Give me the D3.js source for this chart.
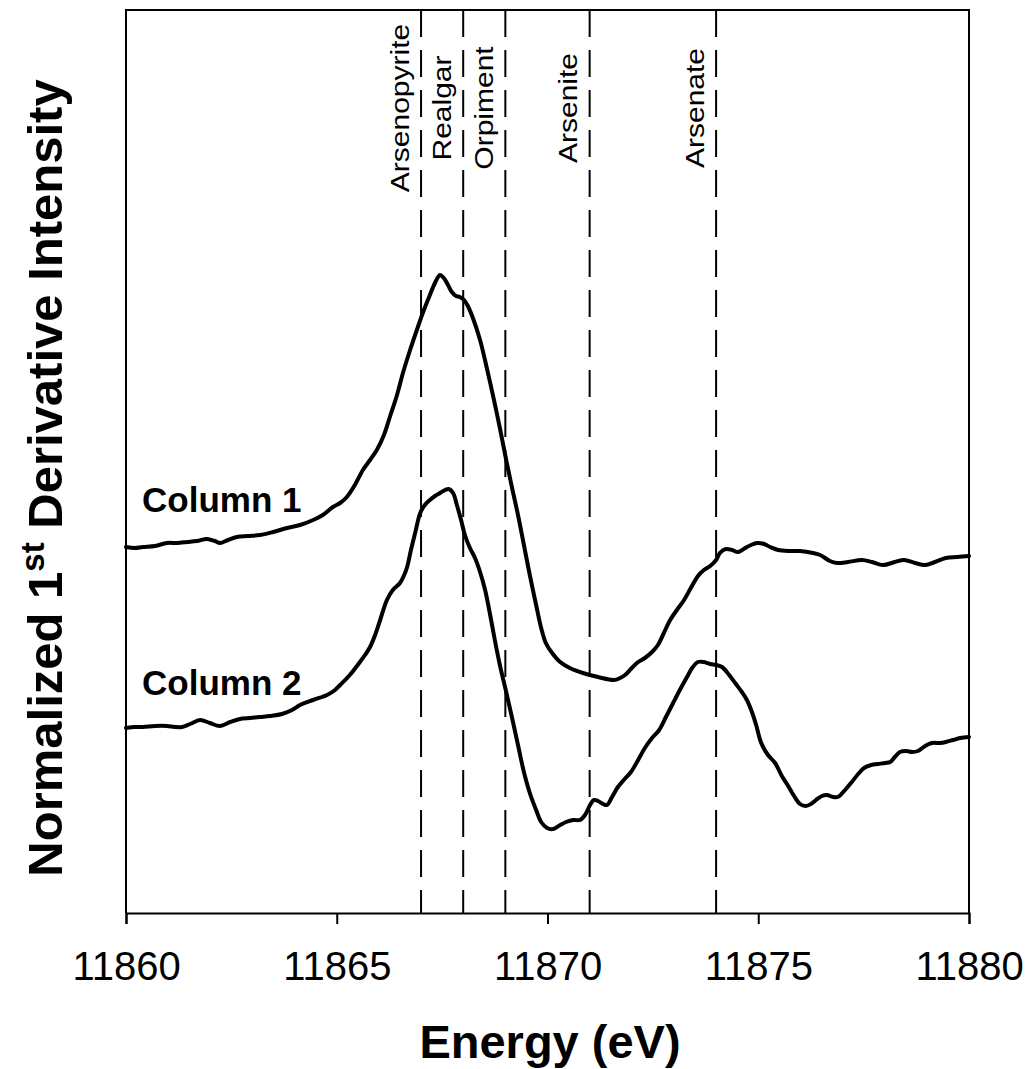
<!DOCTYPE html>
<html>
<head>
<meta charset="utf-8">
<script src="https://cdn.jsdelivr.net/npm/d3@7"></script>
<style>
  html, body { margin: 0; padding: 0; background: #fff; }
  svg { display: block; font-family: "Liberation Sans", Arial, sans-serif; }
</style>
</head>
<body>
<svg id="chart" width="1034" height="1069"></svg>
<script>
// ---- data ----
const xTicks = [11860, 11865, 11870, 11875, 11880];
const refEnergies = [11867, 11868, 11869, 11871, 11874];
const refLabels = ["Arsenopyrite", "Realgar", "Orpiment", "Arsenite", "Arsenate"];
const seriesNames = ["Column 1", "Column 2"];

const col1Energy = [11860.00,11860.21,11860.40,11860.69,11860.97,11861.21,11861.45,11861.68,11861.92,11862.11,11862.23,11862.42,11862.63,11862.89,11863.18,11863.49,11863.82,11864.13,11864.44,11864.67,11864.91,11865.08,11865.24,11865.43,11865.62,11865.79,11865.95,11866.12,11866.26,11866.43,11866.57,11866.74,11866.90,11867.05,11867.21,11867.33,11867.45,11867.54,11867.64,11867.73,11867.83,11867.92,11868.02,11868.11,11868.23,11868.40,11868.56,11868.73,11868.87,11869.02,11869.16,11869.30,11869.44,11869.58,11869.73,11869.85,11869.96,11870.11,11870.30,11870.53,11870.84,11871.20,11871.58,11871.72,11871.84,11872.00,11872.15,11872.31,11872.48,11872.62,11872.76,11872.91,11873.07,11873.24,11873.40,11873.57,11873.71,11873.86,11874.00,11874.09,11874.23,11874.38,11874.52,11874.69,11874.83,11874.97,11875.14,11875.28,11875.47,11875.75,11875.99,11876.30,11876.47,11876.70,11876.87,11877.13,11877.46,11877.70,11877.96,11878.24,11878.46,11878.72,11878.96,11879.19,11879.45,11879.72,11880.00];
const col1Value = [366,365,366,367,370,370,371,372,374,372,370,373,376,377,378,381,385,388,393,398,406,410,416,428,443,453,463,478,496,518,540,563,583,601,618,630,638,635,628,621,617,616,613,607,595,573,545,513,485,453,425,398,368,338,308,285,270,260,251,245,240,236,233,235,238,245,251,255,261,268,280,293,303,313,325,337,343,347,353,360,364,363,361,365,368,370,369,366,363,362,362,360,358,352,350,351,353,351,348,351,353,350,348,351,355,356,357];

const col2Energy = [11860.00,11860.21,11860.40,11860.69,11860.97,11861.16,11861.33,11861.52,11861.76,11861.99,11862.23,11862.47,11862.70,11862.94,11863.18,11863.42,11863.70,11863.94,11864.13,11864.44,11864.77,11864.96,11865.08,11865.31,11865.55,11865.67,11865.79,11865.91,11866.03,11866.19,11866.33,11866.50,11866.60,11866.67,11866.76,11866.86,11866.98,11867.09,11867.21,11867.33,11867.45,11867.57,11867.66,11867.76,11867.85,11867.95,11868.04,11868.16,11868.28,11868.40,11868.52,11868.64,11868.75,11868.87,11869.02,11869.16,11869.30,11869.44,11869.58,11869.73,11869.85,11869.99,11870.13,11870.30,11870.44,11870.61,11870.77,11870.89,11871.01,11871.10,11871.20,11871.32,11871.41,11871.53,11871.67,11871.81,11871.98,11872.15,11872.31,11872.48,11872.65,11872.81,11872.98,11873.14,11873.31,11873.43,11873.57,11873.71,11873.86,11874.00,11874.14,11874.31,11874.47,11874.61,11874.73,11874.85,11874.95,11875.07,11875.23,11875.40,11875.56,11875.71,11875.85,11875.99,11876.13,11876.25,11876.37,11876.51,11876.63,11876.77,11876.89,11877.06,11877.22,11877.37,11877.51,11877.68,11877.84,11878.01,11878.13,11878.24,11878.36,11878.51,11878.65,11878.79,11878.96,11879.12,11879.31,11879.45,11879.62,11879.79,11880.00];
const col2Value = [185,186,186,187,187,186,186,189,193,190,187,191,194,195,196,197,199,203,208,213,218,223,228,238,251,258,266,278,293,313,323,330,338,346,363,380,400,408,413,417,420,423,424,420,408,393,378,365,355,341,323,298,273,248,221,195,168,141,120,103,91,85,84,88,91,93,93,98,108,113,112,109,108,116,126,133,141,153,165,175,183,196,210,223,236,245,251,251,249,248,246,238,229,221,213,201,188,170,158,150,137,127,117,109,107,109,113,117,118,116,116,123,131,139,145,148,149,150,151,156,161,162,161,162,167,170,170,171,173,175,176];

// ---- layout ----
const m = { left: 126, right: 969, top: 10, bottom: 913 };
const svg = d3.select("#chart");

const x = d3.scaleLinear().domain([11860, 11880]).range([m.left, m.right]);
const y = d3.scaleLinear().domain([0, 903]).range([m.bottom, m.top]);

// frame (left, top, right)
svg.append("path")
  .attr("d", `M${m.left},${m.bottom} V${m.top} H${m.right} V${m.bottom}`)
  .attr("fill", "none").attr("stroke", "#000").attr("stroke-width", 2);

// reference dashed lines
svg.append("g").selectAll("line").data(refEnergies).join("line")
  .attr("x1", d => x(d)).attr("x2", d => x(d))
  .attr("y1", m.top).attr("y2", m.bottom)
  .attr("stroke", "#000").attr("stroke-width", 2)
  .attr("stroke-dasharray", "27,13");

// reference labels
svg.append("g").selectAll("text").data(refLabels).join("text")
  .attr("transform", (d, i) => `translate(${x(refEnergies[i]) - 21},108) rotate(-90) scale(1.2,1)`)
  .attr("text-anchor", "middle")
  .attr("dominant-baseline", "central")
  .attr("font-size", 25)
  .attr("fill", "#000")
  .text(d => d);

// x axis
const xAxis = d3.axisBottom(x).tickValues(xTicks).tickSize(11).tickPadding(28)
  .tickFormat(d3.format("d"));
const gx = svg.append("g").attr("transform", `translate(0,${m.bottom})`).call(xAxis);
gx.select(".domain").attr("stroke", "#000").attr("stroke-width", 2);
gx.selectAll(".tick line").attr("stroke", "#000").attr("stroke-width", 2);
gx.selectAll(".tick text").attr("font-size", 40).attr("fill", "#000")
  .attr("font-family", "Liberation Sans, Arial, sans-serif");

// axis titles
svg.append("text")
  .attr("x", 550).attr("y", 1058)
  .attr("text-anchor", "middle").attr("font-size", 47).attr("font-weight", "bold")
  .text("Energy (eV)");

const yt = svg.append("text")
  .attr("transform", "translate(62,478) rotate(-90)")
  .attr("text-anchor", "middle").attr("font-size", 49).attr("font-weight", "bold");
yt.append("tspan").text("Normalized 1");
yt.append("tspan").attr("font-size", 33).attr("dy", -18).text("st");
yt.append("tspan").attr("dy", 18).text(" Derivative Intensity");

// curves
const series = [
  { name: seriesNames[0], e: col1Energy, v: col1Value, labelY: 512 },
  { name: seriesNames[1], e: col2Energy, v: col2Value, labelY: 695 }
];
const line = d3.line().x(d => x(d[0])).y(d => y(d[1])).curve(d3.curveCatmullRom.alpha(0.5));
series.forEach(s => {
  const pts = s.e.map((e, i) => [e, s.v[i]]);
  svg.append("path").datum(pts)
    .attr("d", line)
    .attr("fill", "none").attr("stroke", "#000")
    .attr("stroke-width", 4).attr("stroke-linejoin", "round").attr("stroke-linecap", "round");
  svg.append("text")
    .attr("x", 142).attr("y", s.labelY)
    .attr("font-size", 35).attr("font-weight", "bold").attr("fill", "#000")
    .text(s.name);
});
</script>
</body>
</html>
